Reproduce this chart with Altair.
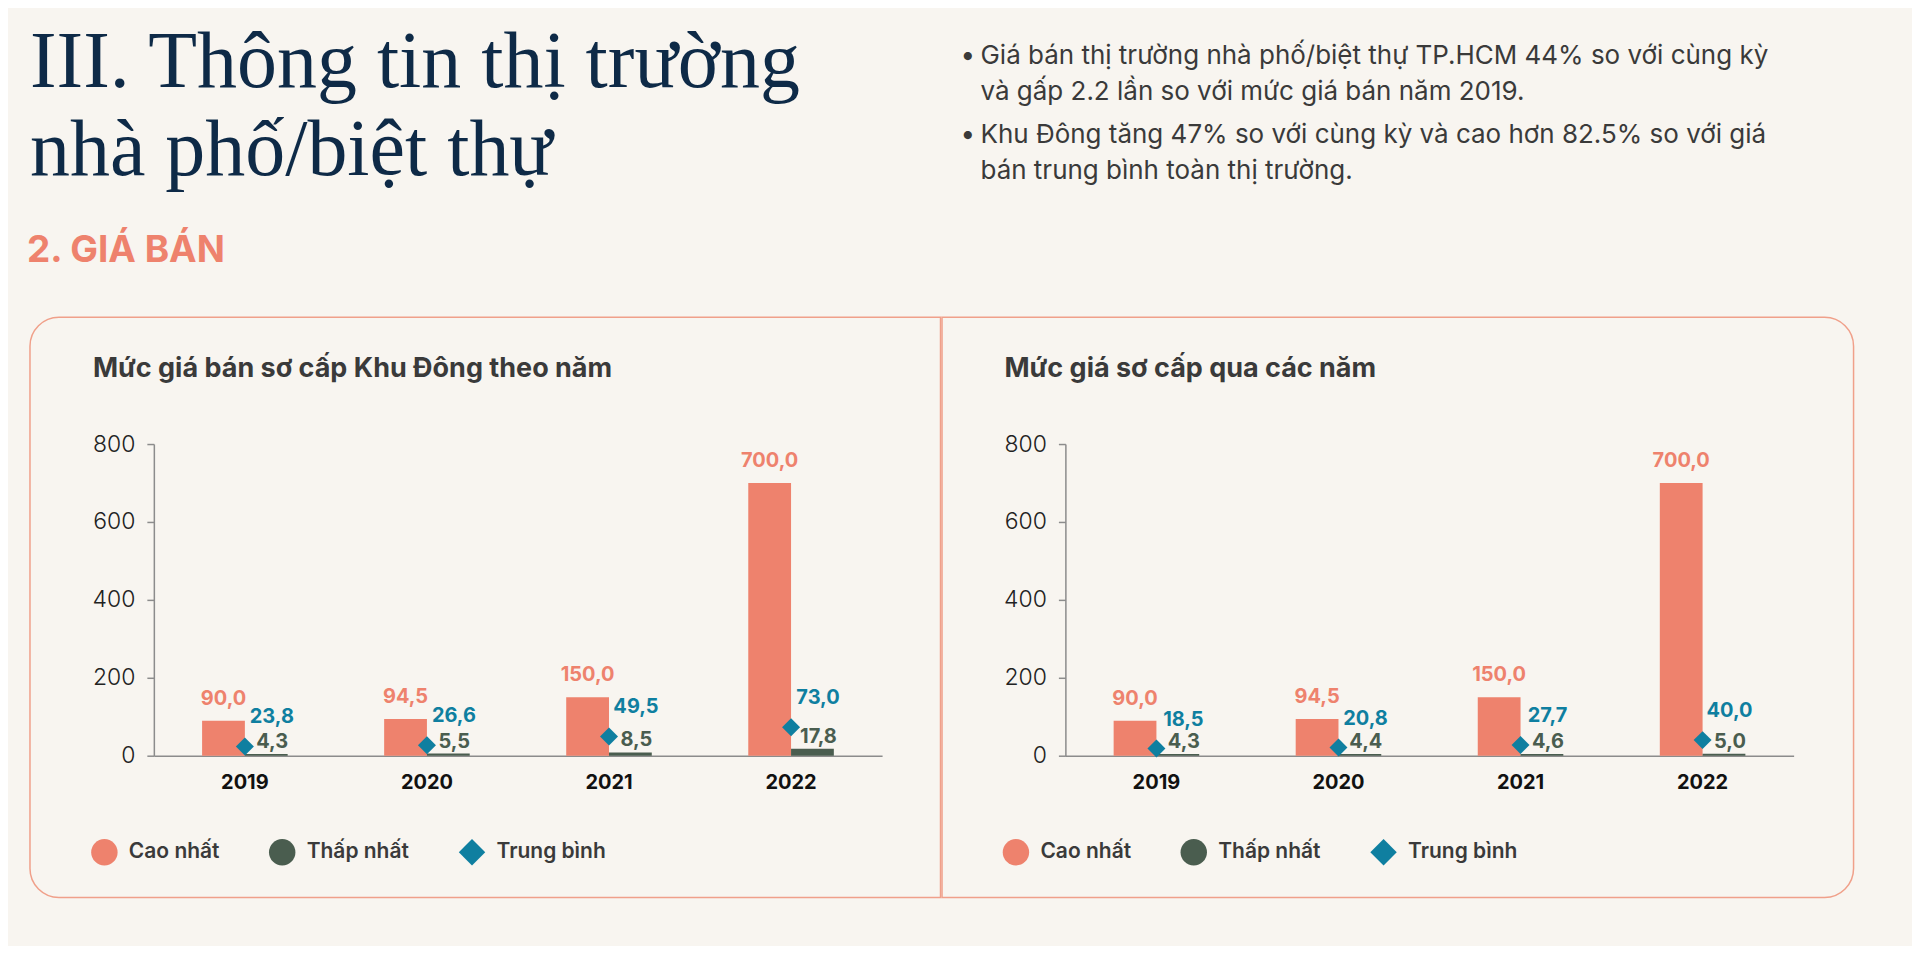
import altair as alt
import pandas as pd

# ---------------- data ----------------
years = ["2019", "2020", "2021", "2022"]
series_names = ["Cao nhất", "Thấp nhất", "Trung bình"]

east_high = [90.0, 94.5, 150.0, 700.0]
east_low = [4.3, 5.5, 8.5, 17.8]
east_avg = [23.8, 26.6, 49.5, 73.0]

all_high = [90.0, 94.5, 150.0, 700.0]
all_low = [4.3, 4.4, 4.6, 5.0]
all_avg = [18.5, 20.8, 27.7, 40.0]

y_ticks = [0, 200, 400, 600, 800]

header_title = ["III. Thông tin thị trường", "nhà phố/biệt thự"]
section_title = "2. GIÁ BÁN"
bullet_1 = ["Giá bán thị trường nhà phố/biệt thự TP.HCM 44% so với cùng kỳ",
            "và gấp 2.2 lần so với mức giá bán năm 2019."]
bullet_2 = ["Khu Đông tăng 47% so với cùng kỳ và cao hơn 82.5% so với giá",
            "bán trung bình toàn thị trường."]
panel_titles = ["Mức giá bán sơ cấp Khu Đông theo năm", "Mức giá sơ cấp qua các năm"]

# ---------------- style ----------------
SALMON = "#EE826D"
DARK = "#4A5D4F"
BLUE = "#0F7FA0"
NAVY = "#0E2A47"
TEXT = "#3A3A3A"
BOX = "#F0A08A"
BG = "#F8F5F0"
FONT = "Inter"
W, H = 729, 312


def fmt(v):
    return f"{v:.1f}".replace(".", ",")


def deco_text(text, x, y, size, color, weight="normal", font=FONT, line_height=None):
    kw = dict(text=text, fontSize=size, color=color, fontWeight=weight, font=font,
              align="left", baseline="alphabetic")
    if line_height:
        kw["lineHeight"] = line_height
    return alt.Chart(alt.Data(values=[{}])).mark_text(**kw).encode(
        x=alt.value(x), y=alt.value(y))


def spacer(x, y):
    return alt.Chart(alt.Data(values=[{}])).mark_rect(opacity=0).encode(
        x=alt.value(x), x2=alt.value(x + 2), y=alt.value(y), y2=alt.value(y + 2))


def box(x1, x2, left_side):
    corners = dict(cornerRadiusTopLeft=29, cornerRadiusBottomLeft=29) if left_side else \
        dict(cornerRadiusTopRight=29, cornerRadiusBottomRight=29)
    return alt.Chart(alt.Data(values=[{}])).mark_rect(
        fill="transparent", stroke=BOX, strokeWidth=1.5, **corners
    ).encode(x=alt.value(x1), x2=alt.value(x2), y=alt.value(-127), y2=alt.value(454))


def chart_layers(high, low, avg):
    bars_df = pd.DataFrame({
        "year": years * 2,
        "series": [series_names[0]] * 4 + [series_names[1]] * 4,
        "value": high + low,
    })
    bars_df["label"] = bars_df["value"].map(fmt)
    avg_df = pd.DataFrame({"year": years, "series": [series_names[2]] * 4, "value": avg})
    avg_df["label"] = avg_df["value"].map(fmt)

    legend = alt.Legend(title=None, orient="none", legendX=-63, legendY=395,
                        direction="horizontal", symbolSize=700, symbolStrokeWidth=0,
                        symbolOpacity=1, labelFont=FONT, labelFontSize=21,
                        labelFontWeight=600, labelColor=TEXT, labelOffset=11,
                        columnPadding=49)
    x = alt.X("year:N", sort=years,
              scale=alt.Scale(paddingInner=0.53, paddingOuter=0.265),
              axis=alt.Axis(title=None, labelAngle=0, ticks=False, tickSize=0,
                            labelPadding=17, grid=False))
    y = alt.Y("value:Q", scale=alt.Scale(domain=[0, 800], nice=False),
              axis=alt.Axis(title=None, values=y_ticks, grid=False))
    color = alt.Color("series:N", scale=alt.Scale(domain=series_names,
                                                  range=[SALMON, DARK, BLUE]),
                      legend=legend)
    shape = alt.Shape("series:N", scale=alt.Scale(domain=series_names,
                                                  range=["circle", "circle", "diamond"]),
                      legend=legend)
    xoff = alt.XOffset("series:N", scale=alt.Scale(domain=series_names[:2],
                                                   paddingInner=0, paddingOuter=0))

    base = alt.Chart(bars_df)
    bars = base.mark_bar().encode(x=x, xOffset=xoff, y=y, color=color)
    high_lbl = base.transform_filter(alt.datum.series == series_names[0]).mark_text(
        font=FONT, fontSize=20, fontWeight="bold", color=SALMON,
        baseline="alphabetic", dy=-16).encode(x=x, xOffset=xoff, y=y, text="label:N")
    low_lbl = base.transform_filter(alt.datum.series == series_names[1]).mark_text(
        font=FONT, fontSize=20, fontWeight="bold", color=DARK,
        baseline="alphabetic", dy=-6, dx=6).encode(x=x, xOffset=xoff, y=y, text="label:N")

    abase = alt.Chart(avg_df)
    pts = abase.mark_point(filled=True, size=324, opacity=1).encode(
        x=x, y=y, color=color, shape=shape)
    avg_lbl = abase.mark_text(font=FONT, fontSize=20, fontWeight="bold", color=BLUE,
                              baseline="alphabetic", dx=27, dy=-23).encode(
        x=x, y=y, text="label:N")
    return [bars, low_lbl, high_lbl, pts, avg_lbl]


# ---------------- left panel ----------------
left = alt.layer(
    spacer(-146, -436),
    box(-124, 787.5, True),
    deco_text(header_title, -124, -357, 80, NAVY, font="Liberation Serif", line_height=88),
    deco_text(section_title, -127, -182, 37, SALMON, weight="bold"),
    deco_text(panel_titles[0], -61, -67, 27, TEXT, weight="bold"),
    *chart_layers(east_high, east_low, east_avg),
).properties(width=W, height=H)

# ---------------- right panel ----------------
right = alt.layer(
    spacer(845, 500),
    box(-123.5, 789, False),
    deco_text("•", -105, -380, 26, TEXT),
    deco_text(bullet_1, -85, -380, 26, TEXT, line_height=36),
    deco_text("•", -105, -301, 26, TEXT),
    deco_text(bullet_2, -85, -301, 26, TEXT, line_height=36),
    deco_text(panel_titles[1], -61, -67, 27, TEXT, weight="bold"),
    *chart_layers(all_high, all_low, all_avg),
).properties(width=W, height=H)

chart = alt.hconcat(left, right, spacing=-1.5).resolve_scale(
    color="independent", shape="independent"
).resolve_legend(
    color="independent", shape="independent"
).properties(
    padding=0, background=BG
).configure_view(
    strokeWidth=0
).configure_axis(
    domainColor="#8C8C8C", domainWidth=1.5, tickColor="#8C8C8C", tickWidth=1.5,
    labelFont=FONT
).configure_axisX(
    labelFontSize=20, labelFontWeight="bold", labelColor="#111111"
).configure_axisY(
    tickSize=7, labelPadding=12, labelFontSize=23, labelFontWeight=300,
    labelColor="#222222"
)

chart.save("out.html", embed_options={"renderer": "svg", "actions": False})
